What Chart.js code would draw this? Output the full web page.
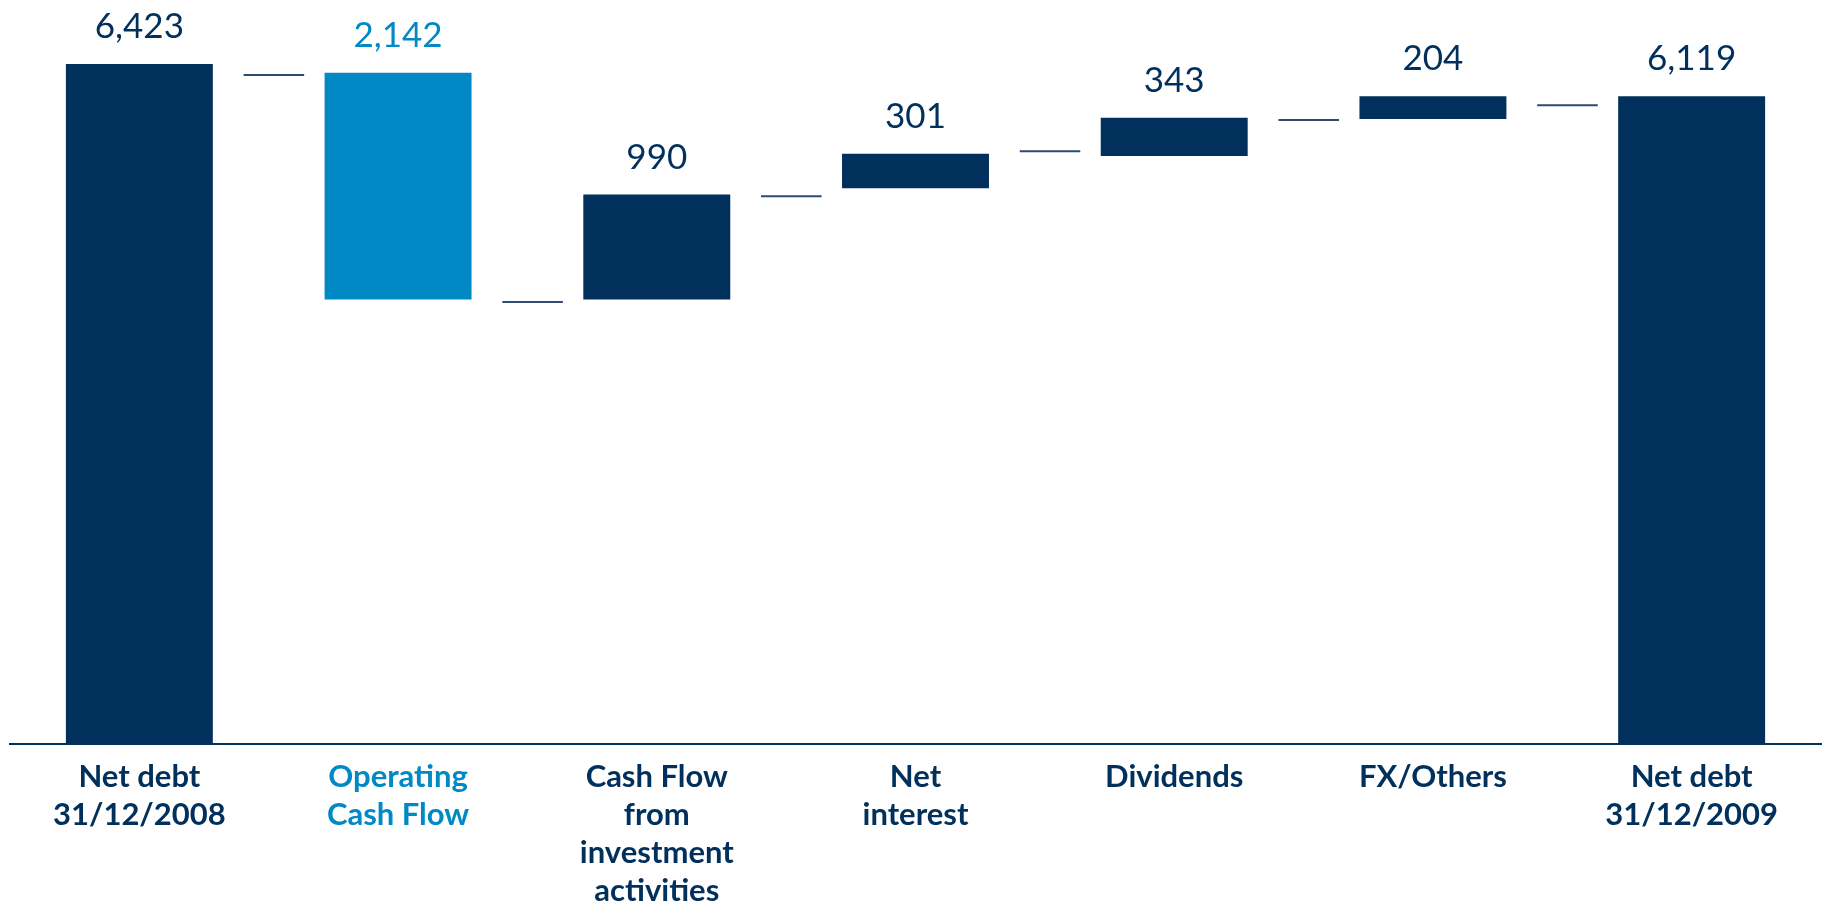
<!DOCTYPE html>
<html>
<head>
<meta charset="utf-8">
<script src="https://cdn.jsdelivr.net/npm/chart.js@4/dist/chart.umd.min.js"></script>
<style>
    html, body { margin: 0; padding: 0; background: #ffffff; }
    #wrap { width: 1826px; height: 905px; position: relative; }
</style>
</head>
<body>
<div id="wrap"><canvas id="netDebtChart"></canvas></div>
<script>
// Categories (multi-line labels)
const categories = [
    ['Net debt', '31/12/2008'],
    ['Operating', 'Cash Flow'],
    ['Cash Flow', 'from', 'investment', 'activities'],
    ['Net', 'interest'],
    ['Dividends'],
    ['FX/Others'],
    ['Net debt', '31/12/2009']
];

// Values printed above each bar
const valueLabels = [6423, 2142, 990, 301, 343, 204, 6119];

// Floating bar ranges (bottom / top)
const barLows  = [0,    4200, 4200, 5250, 5555, 5905, 0];
const barHighs = [6423, 6340, 5190, 5575, 5915, 6120, 6120];

// Level of the thin connector between bar i and bar i+1
const connectorLevels = [6320, 4175, 5175, 5600, 5895, 6035];

const NAVY = '#00305b';
const LIGHT = '#0089c4';
const highlight = 1; // Operating Cash Flow

document.addEventListener('DOMContentLoaded', function() {
    const ctx = document.getElementById('netDebtChart');

    const barColors = categories.map((c, i) => i === highlight ? LIGHT : NAVY);

    // connector segments on a hidden linear axis lined up with the categories
    const connectorPoints = [];
    connectorLevels.forEach((lvl, i) => {
        const mid = i + 0.52;
        connectorPoints.push({ x: mid - 0.117, y: lvl });
        connectorPoints.push({ x: mid + 0.117, y: lvl });
        connectorPoints.push({ x: mid + 0.2, y: null });
    });

    // Value labels above bars
    const valueLabelPlugin = {
        id: 'valueLabels',
        afterDatasetsDraw(chart) {
            const meta = chart.getDatasetMeta(0);
            const c = chart.ctx;
            c.save();
            c.font = '35px Lato';
            c.textAlign = 'center';
            c.textBaseline = 'alphabetic';
            meta.data.forEach((bar, i) => {
                c.fillStyle = i === highlight ? LIGHT : NAVY;
                c.fillText(valueLabels[i].toLocaleString('en-US'), bar.x, bar.y - 26);
            });
            c.restore();
        }
    };

    new Chart(ctx, {
        type: 'bar',
        data: {
            labels: categories,
            datasets: [
                {
                    label: 'Net debt bridge',
                    data: barLows.map((lo, i) => [lo, barHighs[i]]),
                    backgroundColor: barColors,
                    borderWidth: 0,
                    grouped: false,
                    categoryPercentage: 1,
                    barPercentage: 0.568,
                    order: 2
                },
                {
                    type: 'line',
                    label: 'Connectors',
                    data: connectorPoints,
                    xAxisID: 'x2',
                    borderColor: '#2d4b72',
                    borderWidth: 2,
                    pointRadius: 0,
                    spanGaps: false,
                    order: 1
                }
            ]
        },
        options: {
            responsive: true,
            maintainAspectRatio: false,
            animation: false,
            layout: {
                padding: { top: 3, left: 10, right: 5, bottom: 0 }
            },
            plugins: {
                legend: { display: false },
                tooltip: { enabled: false }
            },
            scales: {
                x: {
                    grid: { display: false, drawTicks: false },
                    border: { display: true, color: NAVY, width: 2 },
                    ticks: {
                        padding: 14,
                        maxRotation: 0,
                        autoSkip: false,
                        font: { family: 'Lato', size: 31, weight: 'bold', lineHeight: 1.226 },
                        color: (c) => c.index === highlight ? LIGHT : NAVY
                    },
                    afterFit: function(scale) {
                        scale.height = 161;
                    }
                },
                x2: {
                    type: 'linear',
                    display: false,
                    offset: false,
                    grid: { offset: false },
                    min: -0.5,
                    max: 6.5
                },
                y: {
                    display: false,
                    min: 0,
                    max: 7000
                }
            }
        },
        plugins: [valueLabelPlugin]
    });
});
</script>
</body>
</html>
